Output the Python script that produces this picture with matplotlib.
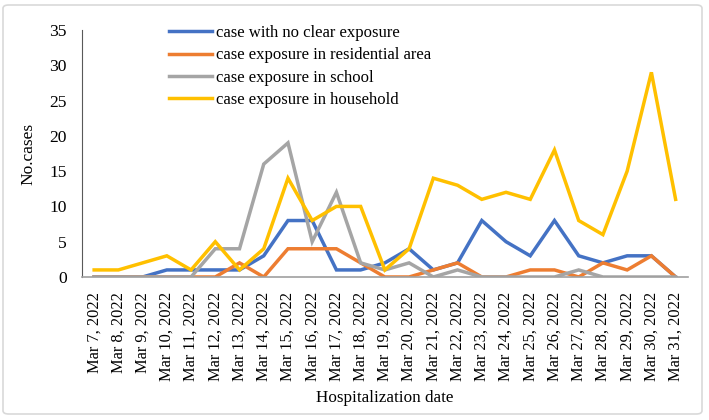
import numpy as np
import matplotlib
matplotlib.use("Agg")
import matplotlib.pyplot as plt
from matplotlib.patches import FancyBboxPatch

plt.rcParams['font.family'] = ['Liberation Serif', 'DejaVu Serif']

dates = ["Mar %d, 2022" % d for d in range(7, 32)]
no_clear = [0, 0, 0, 1, 1, 1, 1, 3, 8, 8, 1, 1, 2, 4, 1, 2, 8, 5, 3, 8, 3, 2, 3, 3, 0]
residential = [0, 0, 0, 0, 0, 0, 2, 0, 4, 4, 4, 2, 0, 0, 1, 2, 0, 0, 1, 1, 0, 2, 1, 3, 0]
school = [0, 0, 0, 0, 0, 4, 4, 16, 19, 5, 12, 2, 1, 2, 0, 1, 0, 0, 0, 0, 1, 0, 0, 0, 0]
household = [1, 1, 2, 3, 1, 5, 1, 4, 14, 8, 10, 10, 1, 4, 14, 13, 11, 12, 11, 18, 8, 6, 15, 29, 11]

series = [
    ("case with no clear exposure", no_clear, "#4472C4"),
    ("case exposure in residential area", residential, "#ED7D31"),
    ("case exposure in school", school, "#A5A5A5"),
    ("case exposure in household", household, "#FFC000"),
]

fig = plt.figure(figsize=(7.09, 4.20), dpi=100)
ax = fig.add_axes([0.1157, 0.3405, 0.8543, 0.5881])

x = np.arange(len(dates))
for label, vals, color in series:
    ax.plot(x, vals, color=color, lw=2.5, label=label, solid_joinstyle='miter')

ax.set_xlim(-0.5, len(dates) - 0.5)
ax.set_ylim(0, 35)
ax.set_yticks(range(0, 36, 5))
ax.set_xticks(x)
ax.set_xticklabels(dates, rotation=90, fontsize=11.8)
ax.tick_params(axis='y', labelsize=12.6, length=0, pad=11)
ax.tick_params(axis='x', length=0, pad=11)
for s in ['top', 'right']:
    ax.spines[s].set_visible(False)
ax.spines['left'].set_color('#595959')
ax.spines['bottom'].set_color('#A0A0A0')
ax.spines['bottom'].set_linewidth(1.2)

ax.set_ylabel("No.cases", fontsize=12.5, labelpad=9)
ax.set_xlabel("Hospitalization date", fontsize=12.3, labelpad=6)

ax.legend(loc='upper left', bbox_to_anchor=(0.1436, 1.02), frameon=False,
          borderpad=0, borderaxespad=0,
          fontsize=12, handlelength=2.55, handletextpad=0.25, labelspacing=0.38)

fig.patches.append(FancyBboxPatch((3 / 709, 6 / 420), 699 / 709, 409 / 420,
                                  boxstyle="round,pad=0,rounding_size=0.008",
                                  transform=fig.transFigure, facecolor='none',
                                  edgecolor='#D9D9D9', lw=1.2))

fig.savefig("out.png", dpi=100)
